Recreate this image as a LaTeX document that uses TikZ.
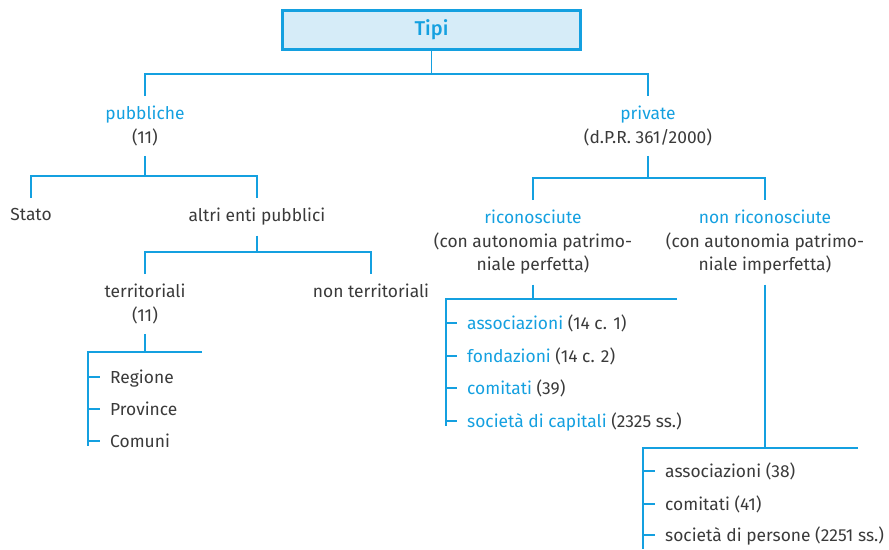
\documentclass[tikz,border=0pt]{standalone}
\usepackage{fontspec}
\setmainfont{Fira Sans}[BoldFont=* Medium]
\definecolor{bl}{RGB}{20,160,224}
\definecolor{bxfill}{RGB}{214,236,248}
\definecolor{tg}{RGB}{58,58,58}
\begin{document}
\begin{tikzpicture}[x=1pt,y=-1pt,
 ln/.style={draw=bl,line width=1.5pt},
 lab/.style={text=tg,font=\fontsize{17.4}{23.5}\selectfont,align=center,inner xsep=0pt,inner ysep=10pt,anchor=north},
 item/.style={text=tg,font=\fontsize{17.4}{23.5}\selectfont,anchor=west,inner xsep=10pt,inner ysep=0pt,text height=12pt,text depth=0pt},
]
\useasboundingbox (0,0) rectangle (889,549);
% root
\node[draw=bl,line width=3pt,fill=bxfill,minimum width=298pt,minimum height=39pt,inner sep=0pt,
      font=\fontsize{20}{24}\selectfont\bfseries,text=bl] (tipi) at (431.5,30) {Tipi};
\coordinate (h1) at (0,74);
\coordinate (h2) at (0,176);
\coordinate (h3) at (0,252);
\coordinate (h5) at (0,178);
% level 1
\node[lab] (pub) at (145,96) {\textcolor{bl}{pubbliche}\\(11)};
\node[lab] (priv) at (648,96) {\textcolor{bl}{private}\\(d.P.R. 361/2000)};
\draw[ln] (tipi.south) -- (tipi.south |- h1);
\draw[ln] (pub.north) -- (pub.north |- h1) -- (priv.north |- h1) -- (priv.north);
% public branch
\node[lab] (stato) at (31,198) {Stato};
\node[lab] (altri) at (257,198) {altri enti pubblici};
\draw[ln] (pub.south) -- (pub.south |- h2);
\draw[ln] (stato.north) -- (stato.north |- h2) -- (altri.north |- h2) -- (altri.north);
\node[lab] (terr) at (145,274) {territoriali\\(11)};
\node[lab] (nonterr) at (371,274) {non territoriali};
\draw[ln] (altri.south) -- (altri.south |- h3);
\draw[ln] (terr.north) -- (terr.north |- h3) -- (nonterr.north |- h3) -- (nonterr.north);
% territorial list
\coordinate (la) at (88,352);
\coordinate (lb) at (202,352);
\coordinate (lc) at (88,446);
\draw[ln] (terr.south) -- (terr.south |- la);
\draw[ln] (lb) -- (la) -- (lc);
\node[item] (reg) at (100,377) {Regione};
\node[item] (prov) at (100,409) {Province};
\node[item] (com) at (100,441) {Comuni};
\foreach \n in {reg,prov,com} \draw[ln] (\n.west -| la) -- (\n.west);
% private branch
\node[lab] (ric) at (533,200) {\textcolor{bl}{riconosciute}\\(con autonomia patrimo-\\niale perfetta)};
\node[lab] (nric) at (765,200) {\textcolor{bl}{non riconosciute}\\(con autonomia patrimo-\\niale imperfetta)};
\draw[ln] (priv.south) -- (priv.south |- h5);
\draw[ln] (ric.north) -- (ric.north |- h5) -- (nric.north |- h5) -- (nric.north);
% recognised list
\coordinate (ra) at (446,299);
\coordinate (rb) at (677,299);
\coordinate (rc) at (446,426);
\draw[ln] (ric.south) -- (ric.south |- ra);
\draw[ln] (rb) -- (ra) -- (rc);
\node[item] (r1) at (457,323) {\textcolor{bl}{associazioni} (14 c. 1)};
\node[item] (r2) at (457,356) {\textcolor{bl}{fondazioni} (14 c. 2)};
\node[item] (r3) at (457,388) {\textcolor{bl}{comitati} (39)};
\node[item] (r4) at (457,421) {\textcolor{bl}{società di capitali} (2325 ss.)};
\foreach \n in {r1,r2,r3,r4} \draw[ln] (\n.west -| ra) -- (\n.west);
% non recognised list
\coordinate (na) at (643,448);
\coordinate (nb) at (858,448);
\coordinate (nc) at (643,549);
\draw[ln] (nric.south) -- (nric.south |- na);
\draw[ln] (nb) -- (na) -- (nc);
\node[item] (n1) at (655,471) {associazioni (38)};
\node[item] (n2) at (655,504) {comitati (41)};
\node[item] (n3) at (655,535) {società di persone (2251 ss.)};
\foreach \n in {n1,n2,n3} \draw[ln] (\n.west -| na) -- (\n.west);
\end{tikzpicture}
\end{document}
